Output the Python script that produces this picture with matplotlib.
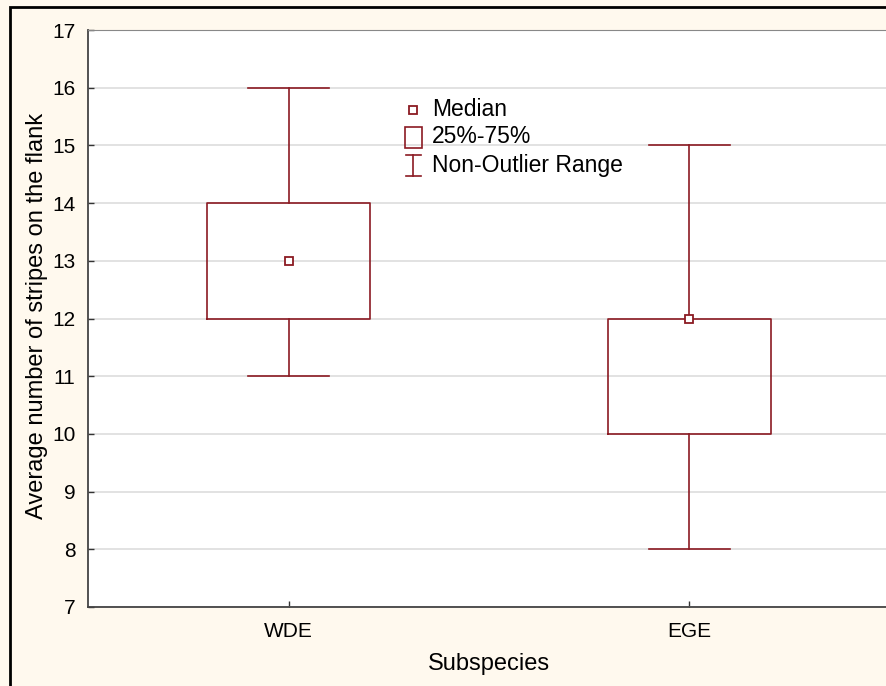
import numpy as np
import matplotlib.pyplot as plt
from matplotlib.patches import Rectangle

plt.rcParams['font.family'] = ['Liberation Sans', 'DejaVu Sans']

# Box plot summary values
groups = ["WDE", "EGE"]
medians = [13, 12]
q1 = [12, 10]
q3 = [14, 12]
whisk_lo = [11, 8]
whisk_hi = [16, 15]
yticks = list(range(7, 18))

box_color = '#8b1a22'
bg = '#fff9ee'

fig = plt.figure(figsize=(8.86, 6.86), dpi=100, facecolor=bg)
# axes runs a little past the right edge, as in the cropped original
ax = fig.add_axes([88 / 886, 1 - 607 / 686, 802 / 886, 577 / 686])
ax.set_facecolor('white')

stats = []
for i, g in enumerate(groups):
    stats.append(dict(label=g, med=medians[i], q1=q1[i], q3=q3[i],
                      whislo=whisk_lo[i], whishi=whisk_hi[i],
                      mean=medians[i], fliers=[]))

positions = np.arange(len(groups)) + 0.5
ax.bxp(stats, positions=positions, widths=0.405, capwidths=0.2,
       showmeans=True, showfliers=False,
       boxprops=dict(color=box_color, lw=1.2),
       whiskerprops=dict(color=box_color, lw=1.2),
       capprops=dict(color=box_color, lw=1.2),
       medianprops=dict(linestyle='none'),
       meanprops=dict(marker='s', markersize=6, markerfacecolor='white',
                      markeredgecolor=box_color, markeredgewidth=1.3),
       zorder=3)

ax.set_xlim(0, len(groups))
ax.set_ylim(7, 17)
ax.set_yticks(yticks)
ax.set_xticks(positions)
ax.set_xticklabels(groups)
ax.yaxis.grid(True, color='#dddddd', lw=1.2, zorder=0)
ax.set_axisbelow(True)
ax.tick_params(direction='in', length=4, width=1, color='#333333', labelsize=15, pad=9)
ax.tick_params(axis='x', pad=11)
for side in ['left', 'bottom']:
    ax.spines[side].set_color('#444444')
    ax.spines[side].set_linewidth(1.3)
ax.spines['top'].set_color('#888888')
ax.spines['right'].set_visible(False)

ax.set_ylabel("Average number of stripes on the flank", fontsize=17)
ax.yaxis.set_label_coords(-0.05, 0.505)
ax.set_xlabel("Subspecies", fontsize=17)
ax.xaxis.set_label_coords(0.5, -0.08)

# legend drawn by hand in axes coordinates
tr = ax.transAxes
ax.plot([0.405], [0.861], transform=tr, marker='s', ms=6, mfc='white',
        mec=box_color, mew=1.3, ls='none', clip_on=False)
ax.add_patch(Rectangle((0.395, 0.795), 0.021, 0.037, transform=tr, fill=False,
                       ec=box_color, lw=1.2))
ax.plot([0.405, 0.405], [0.747, 0.783], transform=tr, color=box_color, lw=1.2)
ax.plot([0.396, 0.415], [0.783, 0.783], transform=tr, color=box_color, lw=1.2)
ax.plot([0.396, 0.415], [0.747, 0.747], transform=tr, color=box_color, lw=1.2)
legend_texts = ["Median", "25%-75%", "Non-Outlier Range"]
for t, y in zip(legend_texts, [0.862, 0.815, 0.765]):
    ax.text(0.429, y, t, transform=tr, fontsize=16.5, va='center', ha='left')

# outer frame of the original figure (top and left edges visible)
fig.patches.append(Rectangle((9.5 / 886, -0.1), 1.2, 1.1 - 7.5 / 686,
                             transform=fig.transFigure, fill=False,
                             ec='black', lw=2))

fig.savefig("out.png", dpi=100, facecolor=bg)
